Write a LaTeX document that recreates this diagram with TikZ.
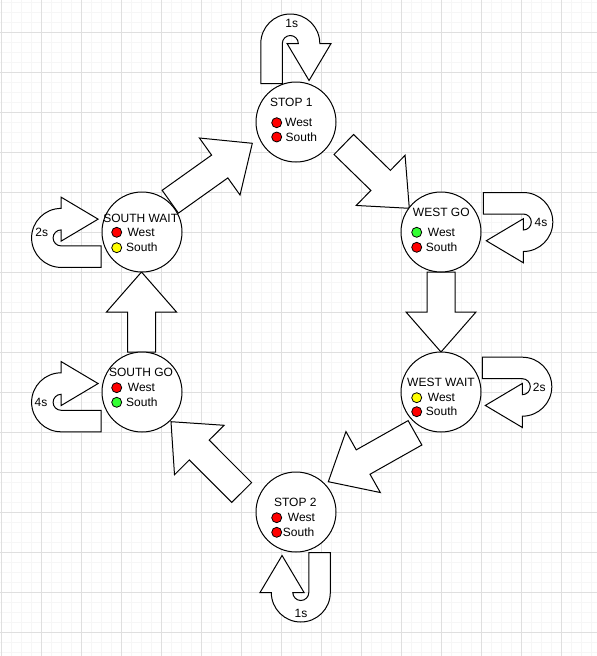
\documentclass[tikz,border=0pt]{standalone}
\usepackage{fontspec}
\setmainfont{Liberation Sans}
\usetikzlibrary{calc}
\definecolor{gridmajor}{HTML}{DFDFDF}
\definecolor{gridminor}{HTML}{F6F6F6}
\definecolor{dotred}{HTML}{FF0000}
\definecolor{dotgreen}{HTML}{33FF33}
\definecolor{dotyellow}{HTML}{FFFF00}
\tikzset{
  state/.style={circle, draw=black, fill=white, line width=1pt, minimum size=80pt, inner sep=0pt},
  title/.style={inner sep=0pt, font=\fontsize{12}{14}\selectfont},
  lbl/.style={inner sep=0pt, anchor=west, font=\fontsize{12}{14}\selectfont},
  lamp/.style={circle, draw=black, line width=0.8pt, minimum size=10pt, inner sep=0pt},
  blockarrowstyle/.style={draw=black, fill=white, line width=1pt, line join=miter},
  loopstyle/.style={draw=black, fill=white, line width=1pt, line join=miter},
}
\newcommand{\blockarrow}[2]{%
  \coordinate (#1b) at ($(#2)!40pt!(#1)$);
  \draw[blockarrowstyle] ($(#1)!14pt!90:(#2)$) -- ($(#1b)!14pt!90:(#2)$) -- ($(#1b)!35pt!90:(#2)$) -- (#2) -- ($(#1b)!35pt!-90:(#2)$) -- ($(#1b)!14pt!-90:(#2)$) -- ($(#1)!14pt!-90:(#2)$) -- cycle;}
\newcommand{\uturn}[3]{%
  \begin{scope}[shift={(#1)}, x={#2}, y={#3}]
    \draw[loopstyle] (40,-29.5) -- (0,-29.5) .. controls (-16.3,-29.5) and (-29.5,-16.3) .. (-29.5,0) .. controls (-29.5,16.3) and (-16.3,29.5) .. (0,29.5) -- (0,40.75) -- (37,18.75) -- (0,-3.25) -- (0,8) .. controls (-4.4,8) and (-8,4.4) .. (-8,0) .. controls (-8,-4.4) and (-4.4,-8) .. (0,-8) -- (40,-8) -- cycle;
  \end{scope}}
\begin{document}
\begin{tikzpicture}[x=1pt,y=-1pt]
\useasboundingbox (0,0) rectangle (597,656);
\fill[white] (0,0) rectangle (597,656);
\foreach \x in {1.5,11.5,...,591.5} \draw[gridminor, line width=1pt] (\x,0) -- (\x,656);
\foreach \y in {2.5,12.5,...,652.5} \draw[gridminor, line width=1pt] (0,\y) -- (597,\y);
\foreach \x in {1.5,41.5,...,581.5} \draw[gridmajor, line width=1pt] (\x,0) -- (\x,656);
\foreach \y in {32.5,72.5,...,632.5} \draw[gridmajor, line width=1pt] (0,\y) -- (597,\y);

% block arrows between states
\coordinate (a1t) at (170.3,201.7); \coordinate (a1p) at (252.3,143.3);
\coordinate (a2t) at (343.8,144.5); \coordinate (a2p) at (409.3,208.3);
\coordinate (a3t) at (441,272);     \coordinate (a3p) at (441,352);
\coordinate (a4t) at (415,432.8);   \coordinate (a4p) at (328.3,481.7);
\coordinate (a5t) at (241.7,492.5); \coordinate (a5p) at (171,421.7);
\coordinate (a6t) at (141.5,352);   \coordinate (a6p) at (141.5,272);
\blockarrow{a1t}{a1p}
\blockarrow{a2t}{a2p}
\blockarrow{a3t}{a3p}
\blockarrow{a4t}{a4p}
\blockarrow{a5t}{a5p}
\blockarrow{a6t}{a6p}

% self loops
\coordinate (l1) at (290.3,43.5);
\coordinate (l2) at (523.3,222);
\coordinate (l3) at (522.3,386.7);
\coordinate (l4) at (300.8,592.5);
\coordinate (l5) at (61.1,402.3);
\coordinate (l6) at (61.1,237.9);
\uturn{l1}{(0pt,-1pt)}{(1pt,0pt)}
\uturn{l2}{(-1pt,0pt)}{(0pt,-1pt)}
\uturn{l3}{(-1pt,0pt)}{(0pt,-1pt)}
\uturn{l4}{(0pt,1pt)}{(-1pt,0pt)}
\uturn{l5}{(1pt,0pt)}{(0pt,1pt)}
\uturn{l6}{(1pt,0pt)}{(0pt,1pt)}
\node[title] (d1) at (291.7,23.3) {1s};
\node[title] (d2) at (541,222.7) {4s};
\node[title] (d3) at (539.3,387.3) {2s};
\node[title] (d4) at (301,613.3) {1s};
\node[title] (d5) at (41,402.7) {4s};
\node[title] (d6) at (41.7,232.7) {2s};

% states
\node[state] (s1) at (296,122) {};
\node[state] (s2) at (441,232) {};
\node[state] (s3) at (441,392) {};
\node[state] (s4) at (296,512) {};
\node[state] (s5) at (142,392) {};
\node[state] (s6) at (142,232) {};

% STOP 1
\node[title] (s1t) at (291.3,102.5) {STOP 1};
\node[lamp, fill=dotred] (s1w) at (276.7,122.7) {};
\node[lamp, fill=dotred] (s1s) at (276.7,137) {};
\node[lbl] (s1wl) at (285,122.5) {West};
\node[lbl] (s1sl) at (285.5,137) {South};
% WEST GO
\node[title] (s2t) at (441.3,212.3) {WEST GO};
\node[lamp, fill=dotgreen] (s2w) at (416.7,232.3) {};
\node[lamp, fill=dotred] (s2s) at (416.7,247.3) {};
\node[lbl] (s2wl) at (427.7,232.3) {West};
\node[lbl] (s2sl) at (425.7,247.3) {South};
% WEST WAIT
\node[title] (s3t) at (441,382.7) {WEST WAIT};
\node[lamp, fill=dotyellow] (s3w) at (416.7,397.7) {};
\node[lamp, fill=dotred] (s3s) at (416.7,411.7) {};
\node[lbl] (s3wl) at (427.7,397.7) {West};
\node[lbl] (s3sl) at (425.7,411.7) {South};
% STOP 2
\node[title] (s4t) at (295.3,502.3) {STOP 2};
\node[lamp, fill=dotred] (s4w) at (276.7,517.7) {};
\node[lamp, fill=dotred] (s4s) at (276.7,532.3) {};
\node[lbl] (s4wl) at (287.7,517.7) {West};
\node[lbl] (s4sl) at (282.7,532.3) {South};
% SOUTH GO
\node[title] (s5t) at (141,372.7) {SOUTH GO};
\node[lamp, fill=dotred] (s5w) at (116.7,387.7) {};
\node[lamp, fill=dotgreen] (s5s) at (116.7,402.3) {};
\node[lbl] (s5wl) at (127.7,387.7) {West};
\node[lbl] (s5sl) at (126,402.3) {South};
% SOUTH WAIT
\node[title] (s6t) at (140.7,218.3) {SOUTH WAIT};
\node[lamp, fill=dotred] (s6w) at (116.7,232.3) {};
\node[lamp, fill=dotyellow] (s6s) at (116.7,247.7) {};
\node[lbl] (s6wl) at (127.3,232.3) {West};
\node[lbl] (s6sl) at (126,247.7) {South};
\end{tikzpicture}
\end{document}
